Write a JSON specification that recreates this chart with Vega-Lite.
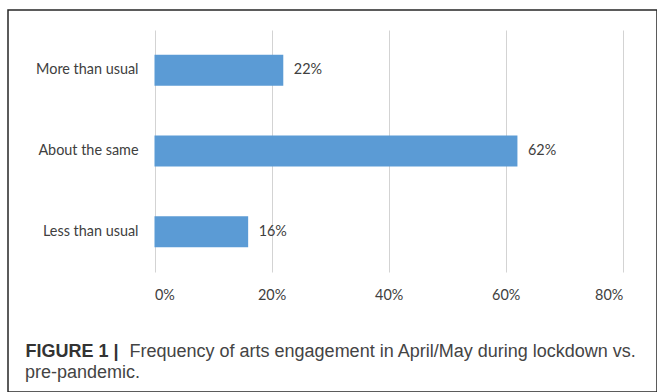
{
  "$schema": "https://vega.github.io/schema/vega-lite/v6.json",
  "width": 649,
  "height": 382,
  "autosize": {"type": "none"},
  "padding": {"left": 8, "top": 10, "right": 0, "bottom": 0},
  "background": "white",
  "config": {
    "view": {"stroke": "#262626", "strokeWidth": 1.5},
    "font": "Lato"
  },
  "title": {
    "text": "pre-pandemic.",
    "orient": "bottom",
    "anchor": "start",
    "frame": "group",
    "dx": 17,
    "offset": -14,
    "baseline": "alphabetic",
    "font": "Liberation Sans",
    "fontSize": 18,
    "fontWeight": "normal",
    "color": "#444444"
  },
  "data": {
    "values": [
      {"category": "More than usual", "share": 0.22, "label": "22%"},
      {"category": "About the same", "share": 0.62, "label": "62%"},
      {"category": "Less than usual", "share": 0.16, "label": "16%"}
    ]
  },
  "encoding": {
    "y": {
      "field": "category",
      "type": "nominal",
      "sort": ["More than usual", "About the same", "Less than usual"],
      "scale": {"range": [20, 262], "paddingInner": 0.616, "paddingOuter": 0.308},
      "axis": {
        "orient": "left",
        "offset": -130,
        "domain": false,
        "ticks": false,
        "tickSize": 0,
        "labelPadding": 0,
        "labelFont": "Lato",
        "labelFontSize": 14.4,
        "labelColor": "#404040",
        "grid": false,
        "title": "Frequency of arts engagement in April/May during lockdown vs.",
        "titleAngle": 0,
        "titleX": -9,
        "titleY": 346.5,
        "titleAlign": "left",
        "titleBaseline": "alphabetic",
        "titleFont": "Liberation Sans",
        "titleFontSize": 18,
        "titleFontWeight": "normal",
        "titleColor": "#444444"
      }
    },
    "x": {
      "field": "share",
      "type": "quantitative",
      "scale": {"domain": [0, 0.8], "range": [146.5, 614.8], "nice": false},
      "axis": {
        "orient": "bottom",
        "offset": -120,
        "values": [0, 0.2, 0.4, 0.6, 0.8],
        "format": ".0%",
        "grid": false,
        "domain": false,
        "ticks": true,
        "tickSize": -242,
        "tickColor": "#d3d3d3",
        "tickWidth": 1,
        "labelPadding": 258,
        "labelFont": "Lato",
        "labelFontSize": 14.4,
        "labelColor": "#404040",
        "title": "FIGURE 1 |",
        "titleX": 17,
        "titleY": 84.5,
        "titleAlign": "left",
        "titleBaseline": "alphabetic",
        "titleFont": "Liberation Sans",
        "titleFontSize": 18,
        "titleFontWeight": "bold",
        "titleColor": "#333333"
      }
    }
  },
  "layer": [
    {"mark": {"type": "bar", "color": "#5B9BD5"}},
    {
      "mark": {"type": "text", "align": "left", "baseline": "middle", "dx": 10.5, "font": "Lato", "fontSize": 14.4, "color": "#404040"},
      "encoding": {"text": {"field": "label"}}
    }
  ]
}
